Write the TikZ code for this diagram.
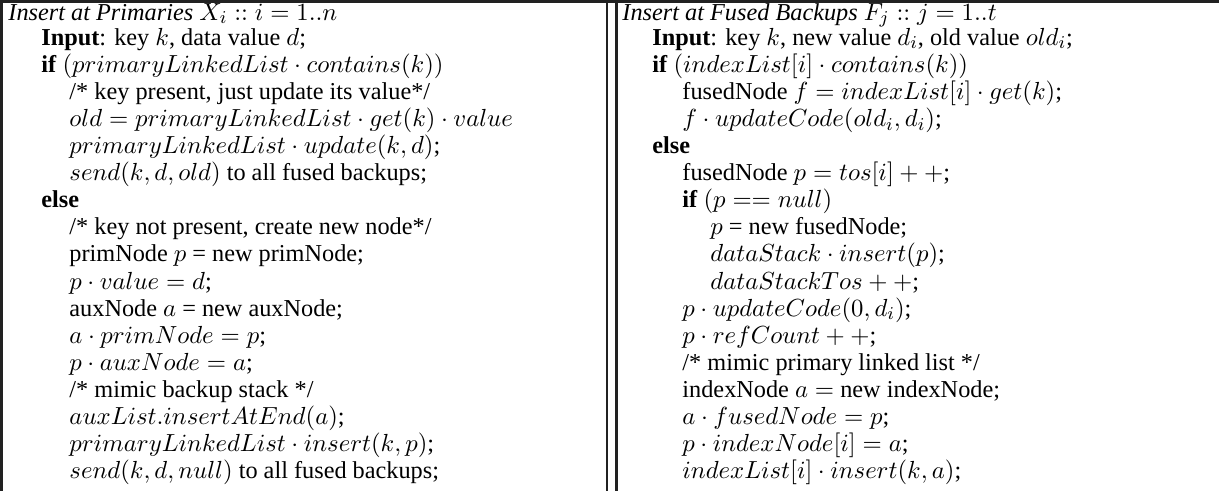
\documentclass[tikz,border=0pt]{standalone}
\usepackage[no-math]{fontspec}
\setmainfont{Liberation Serif}
\begin{document}
\begin{tikzpicture}[x=0.4428pt,y=-0.4428pt,
  ln/.style={anchor=base west,inner sep=0pt,font=\fontsize{10.75}{12}\selectfont},
  frame/.style={draw=black!87,line width=1.15pt}]
\useasboundingbox (0,0) rectangle (1219,491);
% frame lines
\draw[frame,line width=1.4pt] (0,1.5) -- (1219,1.5);
\draw[frame,line width=1.4pt] (1.5,0) -- (1.5,491);
\draw[frame] (607,0) -- (607,491);
\draw[frame] (616.5,0) -- (616.5,491);
% left column
\def\la{8}\def\lb{41}\def\lc{69}
\node[ln] (L1) at (\la,20) {\textit{Insert at Primaries} $X_i :: i = 1..n$};
\node[ln] (L2) at (\lb,45.1) {\textbf{Input}: key $k$, data value $d$;};
\node[ln] (L3) at (\lb,72.2) {\textbf{if} $(primaryLinkedList \cdot contains(k))$};
\node[ln] (L4) at (\lc,99.3) {/* key present, just update its value*/};
\node[ln] (L5) at (\lc,126.4) {$old = primaryLinkedList \cdot get(k) \cdot value$};
\node[ln] (L6) at (\lc,153.5) {$primaryLinkedList \cdot update(k, d)$;};
\node[ln] (L7) at (\lc,180.6) {$send(k, d, old)$ to all fused backups;};
\node[ln] (L8) at (\lb,207.7) {\textbf{else}};
\node[ln] (L9) at (\lc,234.8) {/* key not present, create new node*/};
\node[ln] (L10) at (\lc,261.9) {primNode $p$ = new primNode;};
\node[ln] (L11) at (\lc,289.0) {$p \cdot value = d$;};
\node[ln] (L12) at (\lc,316.1) {auxNode $a$ = new auxNode;};
\node[ln] (L13) at (\lc,343.2) {$a \cdot primNode = p$;};
\node[ln] (L14) at (\lc,370.3) {$p \cdot auxNode = a$;};
\node[ln] (L15) at (\lc,397.4) {/* mimic backup stack */};
\node[ln] (L16) at (\lc,424.5) {$auxList.insertAtEnd(a)$;};
\node[ln] (L17) at (\lc,451.6) {$primaryLinkedList \cdot insert(k, p)$;};
\node[ln] (L18) at (\lc,478.7) {$send(k, d, null)$ to all fused backups;};
% right column
\def\ra{622}\def\rb{652}\def\rc{682}\def\rd{710}
\node[ln] (R1) at (\ra,20) {\textit{Insert at Fused Backups} $F_j :: j = 1..t$};
\node[ln] (R2) at (\rb,45.1) {\textbf{Input}: key $k$, new value $d_i$, old value $old_i$;};
\node[ln] (R3) at (\rb,72.2) {\textbf{if} $(indexList[i] \cdot contains(k))$};
\node[ln] (R4) at (\rc,99.3) {fusedNode $f = indexList[i] \cdot get(k)$;};
\node[ln] (R5) at (\rc,126.4) {$f \cdot updateCode(old_i, d_i)$;};
\node[ln] (R6) at (\rb,153.5) {\textbf{else}};
\node[ln] (R7) at (\rc,180.6) {fusedNode $p = tos[i] + +$;};
\node[ln] (R8) at (\rc,207.7) {\textbf{if} $(p == null)$};
\node[ln] (R9) at (\rd,234.8) {$p$ = new fusedNode;};
\node[ln] (R10) at (\rd,261.9) {$dataStack \cdot insert(p)$;};
\node[ln] (R11) at (\rd,289.0) {$dataStackTos + +$;};
\node[ln] (R12) at (\rc,316.1) {$p \cdot updateCode(0, d_i)$;};
\node[ln] (R13) at (\rc,343.2) {$p \cdot refCount + +$;};
\node[ln] (R14) at (\rc,370.3) {/* mimic primary linked list */};
\node[ln] (R15) at (\rc,397.4) {indexNode $a =$ new indexNode;};
\node[ln] (R16) at (\rc,424.5) {$a \cdot fusedNode = p$;};
\node[ln] (R17) at (\rc,451.6) {$p \cdot indexNode[i] = a$;};
\node[ln] (R18) at (\rc,478.7) {$indexList[i] \cdot insert(k, a)$;};
\end{tikzpicture}
\end{document}
